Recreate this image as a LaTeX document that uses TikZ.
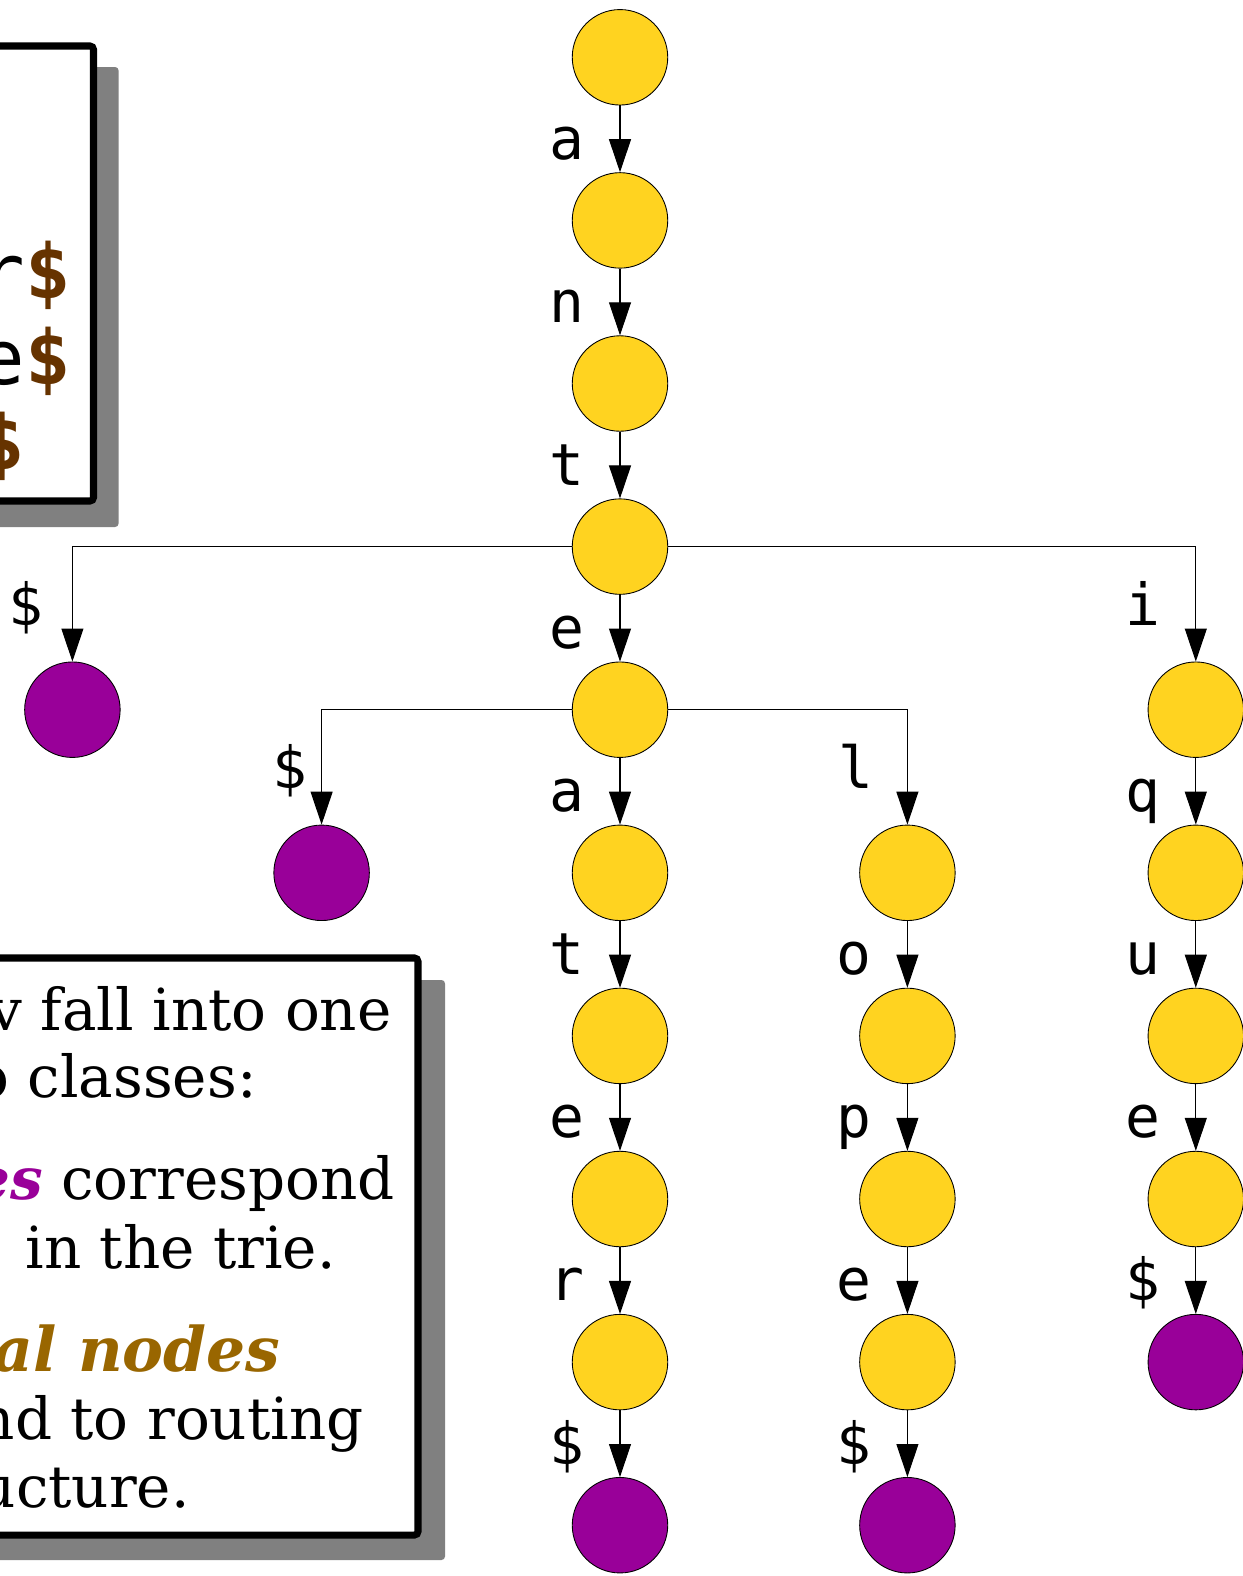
\documentclass[tikz,border=0pt]{standalone}
\usepackage{fontspec}
\setmainfont{DejaVu Serif}
\newfontfamily\triemono{DejaVu Sans Mono}
\usetikzlibrary{arrows.meta}

\definecolor{trieyellow}{HTML}{FFD320}
\definecolor{triepurple}{HTML}{990099}
\definecolor{dollarbrown}{HTML}{663300}
\definecolor{internalbrown}{HTML}{996600}
\definecolor{shadowgray}{HTML}{808080}

\tikzset{
	internal/.style = {circle, draw = black, line width = 0.5pt, fill = trieyellow, minimum size = 1.91cm, inner sep = 0pt},
	wordnode/.style = {internal, fill = triepurple},
	trieedge/.style = {-{Triangle[length = 0.66cm, width = 0.44cm]}, line width = 0.6pt},
	edgelabel/.style = {font = \fontsize{33}{33}\selectfont\triemono, anchor = base, inner sep = 0pt},
	panel/.style = {draw = black, line width = 4pt, fill = white, rounded corners = 2pt},
	shadowbox/.style = {fill = shadowgray, rounded corners = 2pt},
	codeline/.style = {font = \fontsize{43}{43}\selectfont\triemono, anchor = base east, inner sep = 0pt},
	prose/.style = {font = \fontsize{33}{33}\selectfont, anchor = base east, inner sep = 0pt},
}

\begin{document}
\begin{tikzpicture}[x = 0.02cm, y = -0.02cm]

	\useasboundingbox (0, 0) rectangle (1242, 1576);

	% Word list

	\fill [shadowbox] (-60, 67) rectangle (118.6, 527);
	\draw [panel] (-60, 46) rectangle (93.5, 501);
	\node [codeline] (anteater-word) at (71, 298) {anteater\textcolor{dollarbrown}{\bfseries\$}};
	\node [codeline] (antelope-word) at (71, 384) {antelope\textcolor{dollarbrown}{\bfseries\$}};
	\node [codeline] (antique-word) at (25, 469) {antique\textcolor{dollarbrown}{\bfseries\$}};

	% Explanation

	\fill [shadowbox] (-60, 980) rectangle (445, 1560);
	\draw [panel] (-60, 958) rectangle (418, 1535);
	\node [prose] (text-1) at (392, 1030) {v fall into one};
	\node [prose] (text-2) at (257, 1097) {o classes:};
	\node [prose] (text-3) at (395, 1199) {\textcolor{triepurple}{\bfseries\itshape es} correspond};
	\node [prose] (text-4) at (336, 1268) {in the trie.};
	\node [prose, font = \fontsize{35}{35}\selectfont] (text-5) at (281, 1371) {\textcolor{internalbrown}{\bfseries\itshape al nodes}};
	\node [prose] (text-6) at (364, 1439) {nd to routing};
	\node [prose] (text-7) at (190, 1507) {ucture.};

	% Trie nodes

	\foreach \name/\x/\y in {root/620/57.3, a/620/220.4, an/620/383.5, ant/620/546.6,
		ante/620/709.7, antea/620/872.8, anteat/620/1035.9, anteate/620/1199, anteater/620/1362.1,
		antel/907.4/872.8, antelo/907.4/1035.9, antelop/907.4/1199, antelope/907.4/1362.1,
		anti/1195.8/709.7, antiq/1195.8/872.8, antiqu/1195.8/1035.9, antique/1195.8/1199}
		\node [internal] (\name) at (\x, \y) {};

	\foreach \name/\x/\y in {ant-end/72.4/709.7, ante-end/321.6/872.8, anteater-end/620/1525.2,
		antelope-end/907.4/1525.2, antique-end/1195.8/1362.1}
		\node [wordnode] (\name) at (\x, \y) {};

	% Straight edges

	\foreach \from/\to/\ch in {root/a/a, a/an/n, an/ant/t, ant/ante/e,
		ante/antea/a, antea/anteat/t, anteat/anteate/e, anteate/anteater/r, anteater/anteater-end/\$,
		antel/antelo/o, antelo/antelop/p, antelop/antelope/e, antelope/antelope-end/\$,
		anti/antiq/q, antiq/antiqu/u, antiqu/antique/e, antique/antique-end/\$}
	{
		\draw [trieedge] (\from) -- (\to);
		\node [edgelabel] (l-\to) at ([shift = {(-53, -13)}] \to.north) {\ch};
	}

	% Branching edges

	\foreach \from/\to/\ch/\dx in {ant/ant-end/\$/-46, ant/anti/i/-53, ante/ante-end/\$/-32, ante/antel/l/-51}
	{
		\draw [trieedge] (\from) -| (\to);
		\node [edgelabel] (l-\to) at ([shift = {(\dx, -36)}] \to.north) {\ch};
	}

\end{tikzpicture}
\end{document}
